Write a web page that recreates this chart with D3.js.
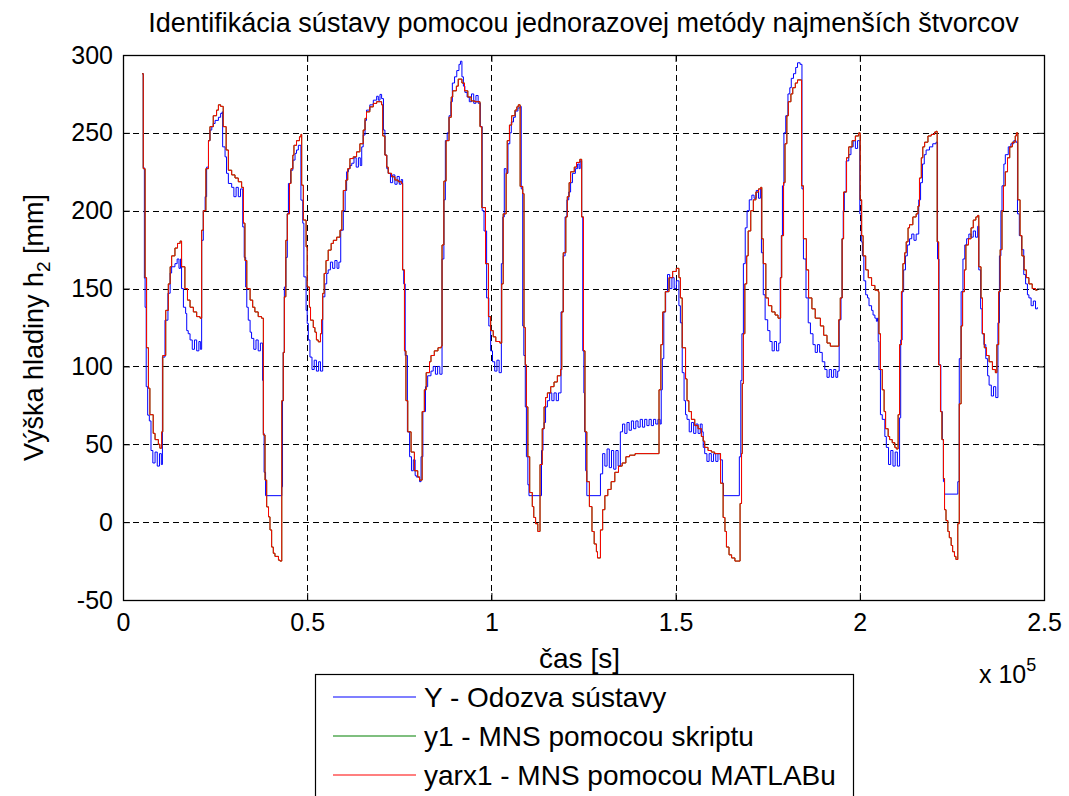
<!DOCTYPE html>
<html>
<head>
<meta charset="utf-8">
<script src="https://cdn.jsdelivr.net/npm/d3@7"></script>
<style>
  html, body { margin: 0; padding: 0; background: #fff; }
  svg text { font-family: "Liberation Sans", Arial, Helvetica, sans-serif; fill: #000; }
</style>
</head>
<body>
<svg id="chart" width="1069" height="796"></svg>
<script>
// Time axis in kiloseconds, level in mm. Each pair is [t (ks), h2 (mm)], held until the next pair.

// Y - measured response of the plant (blue)
const seriesY = [
  [5.2,288],[5.5,227.6],[5.8,156.7],[6.0,138],[6.3,87],[6.7,68.7],[7.15,65],
  [7.6,46],[8.1,38],[8.7,45],[9.3,36],[9.9,44],[10.4,37],
  [10.7,106],[11.4,129.7],[12.2,147],[12.8,160],[13.2,164],
  [14.1,166],[14.7,169],[15.2,163],[15.6,169],
  [15.9,150],[16.4,138],[17.0,134],[17.3,123],[17.7,121],
  [18.2,117],[18.8,111],[19.4,117],[20.0,110],[20.6,116],[21.0,111],
  [21.35,181],[21.8,200],[22.3,209],[22.7,228],[23.2,245],[23.6,251.8],[24.1,254],[24.5,256],
  [25.0,258],[25.9,260],[26.5,262.5],[26.9,263.5],[27.05,241],[27.7,234.6],[28.1,224],[28.6,217.5],
  [29.5,215],[30.1,209],[30.7,215],[31.3,209],[31.9,214],
  [32.5,189.6],[32.9,170],[33.3,151],[33.6,138],[34.0,129.7],[34.5,122],
  [34.9,118],[35.5,111],[36.1,117],[36.7,110],[37.3,115],
  [37.9,91],[38.1,57],[38.3,32],[38.7,17],[43.1,22.7],[43.3,78],[43.5,109],[43.8,151],[44.2,170],
  [44.6,198],[44.9,217.5],[45.5,226],[46.1,232.5],[46.7,236.8],[47.1,239],[47.6,242],
  [48.3,206.8],[48.8,192],[49.1,157.5],[49.7,136],[50.0,127.6],[50.3,117],
  [50.75,106],[51.3,98],[51.9,104],[52.5,97],[53.1,103],[53.6,97],
  [54.2,144.7],[54.8,153],[55.3,159.7],
  [55.7,162],[56.3,167],[56.9,163],[57.5,168],[58.1,163],[58.6,167],
  [59.1,187.5],[59.8,200],[60.3,213],[60.7,225],[61.2,227],[61.6,229],
  [62.1,230.5],[62.7,234],[63.3,228],[63.9,234],[64.4,229],
  [64.8,241],[65.2,248.6],[65.7,258],[66.1,264.6],[67.0,268],[67.95,271],[68.85,273.5],[69.3,271],
  [69.76,274.7],[70.2,272],[70.7,251.8],[71.1,235.7],[71.6,227],
  [72.0,224],[72.6,218],[73.2,223],[73.8,217],[74.4,222],[75.0,217],[75.5,220],
  [75.9,162],[76.2,153],[76.6,107],[77.2,58],
  [77.8,42],[78.3,33],[78.8,40],[79.3,30],
  [79.6,29],[80.5,26],[80.9,42],[81.4,71],[82.1,87],[82.7,94],
  [83.6,97],[84.2,100],[84.8,95],[85.4,100],[86.0,95],
  [86.6,169],[87.1,207],[87.5,245],[88.0,250],[88.5,261],[89.0,270],[89.4,282],[90.0,286],
  [90.6,290],[91.2,294],[91.6,296],[92.0,286],[92.4,280],[92.8,276],
  [93.4,273],[94.0,270],[94.6,275],[95.2,269],[95.8,274],[96.4,269],
  [97.0,254],[97.5,200],[98.0,187],[98.7,144],[99.3,126],[99.8,110],
  [100.3,103],[100.9,97],[101.5,104],[102.1,96],
  [102.7,166],[103.1,196],[103.5,227],[104.0,224],[104.5,243],[105.0,250],[105.4,257],[106.0,260],
  [106.5,264],[107.2,266],[107.8,267],[108.1,214],[108.5,126],[108.8,107],[109.2,74],[109.5,42],
  [109.9,24],[110.2,17],[113.6,46],[114.0,60],[114.3,64],[114.7,74],
  [115.2,78],[115.8,83],[116.4,78],[117.0,83],[117.6,78],[118.2,83],
  [118.9,135],[119.5,171],[120.0,196],[120.5,207],[121.0,212],[121.5,218],[122.0,224],[122.8,227],
  [123.4,230],[123.8,227],[124.1,232],[124.5,196],[124.8,110],[125.1,83],[125.3,58],[125.6,33],
  [125.9,17],[129.6,31],
  [130.2,44],[130.8,36],[131.4,47],[132.0,35],[132.6,46],[133.2,34],[133.8,46],[134.4,36],
  [135.0,58],[135.6,63],[136.2,57],[136.8,64],[137.4,59],[138.0,65],[138.6,60],[139.2,65],
  [139.8,61],[140.4,66],[141.0,61],[141.6,66],[142.2,62],[142.8,66],[143.4,62],[144.0,66],
  [144.6,63],[145.2,66],[145.8,63],
  [146.1,85],[146.4,105],[146.8,135],[147.3,148],
  [147.8,159],[148.4,150],[149.0,157],[149.6,150],[150.2,155],
  [150.9,139],[151.3,128],[151.8,96],[152.3,78],[152.7,69],
  [153.1,66],[153.7,58],[154.3,64],[154.9,57],[155.5,63],[156.1,57],[156.7,63],[157.2,58],
  [157.5,48],
  [157.9,44],[158.5,39],[159.1,44],[159.7,39],[160.3,44],[160.9,39],[161.5,44],[162.1,40],
  [162.7,25],[163.0,17],
  [167.3,42],[167.7,91],[168.0,121],[168.4,166],[168.9,189],[169.4,200],[170.0,207],
  [170.7,210],[171.3,208],[171.9,213],[172.5,208],[173.0,214],
  [173.3,173],[173.8,146],[174.3,130],[175.0,123],
  [175.6,116],[176.2,110],[176.8,116],[177.4,110],[178.0,115],
  [178.4,157],[178.7,184],[179.0,216],[179.4,250],[179.9,261],[180.5,275],[181.0,279],[181.4,285],
  [182.0,288],[182.6,292],[183.1,295],[183.8,294],[184.3,214],[184.7,169],[185.4,144],[186.0,128],
  [186.6,121],
  [187.3,114],[187.9,109],[188.5,114],[189.1,109],
  [189.8,103],
  [190.5,98],[191.1,93],[191.7,98],[192.3,93],[192.9,98],[193.5,93],[194.0,97],
  [194.4,130],[194.9,144],[195.2,182],[195.5,200],[195.8,212],[196.3,232],[197.0,236],
  [197.6,241],[198.2,245],[198.8,240],[199.4,245],
  [200.0,198],[200.4,180],[200.7,171],[201.1,155],[201.6,146],[202.1,144],[202.5,139],[203.2,136],
  [203.6,133],[204.1,131],[204.5,129],[204.8,131],[205.0,116],[205.2,98],[205.6,69],[206.1,66],
  [206.8,55],
  [207.2,48],[207.8,37],[208.4,46],[209.0,36],[209.6,45],[210.2,36],
  [210.8,67],[211.1,117],[211.5,148],[211.9,162],[212.4,171],[212.9,178],
  [213.5,182],[214.1,185],[214.7,181],[215.3,185],
  [216.0,207],[216.5,218],[217.0,230],[217.5,236],[218.0,239],[218.9,241],[219.8,243],[220.7,244],
  [221.1,169],[221.5,101],[222.0,71],[222.4,53],[222.7,26],[223.0,18],[226.6,26],
  [227.0,105],[227.5,148],[228.0,169],[228.5,178],[229.0,182],
  [229.6,185],[230.2,183],[230.8,187],[231.4,183],
  [232.0,190],[232.3,162],[232.8,137],[233.2,121],[233.7,114],[234.2,105],[234.7,94],
  [235.1,88],[235.7,81],[236.3,87],[236.9,80],
  [237.5,128],[237.9,171],[238.3,200],[238.6,216],[239.1,230],[239.5,236],[240.3,241],[241.0,243],
  [241.8,245],[242.4,244],[242.8,198],[243.3,184],[243.9,175],[244.5,159],[245.0,153],[245.5,146],
  [245.9,144],[246.5,139],[247.1,142],[247.7,137],[248.2,138]
];

// yarx1 - least-squares ARX model output computed with MATLAB (red)
const seriesYarx1 = [
  [5.2,288],[5.5,227],[6.0,157],[6.4,112],[6.9,86],[7.3,69],[8.2,57],[8.7,53],[9.6,50],[10.0,47.5],
  [10.5,58],[10.8,107],[11.6,136],[12.3,153],[12.8,164],[13.2,171],[14.1,176],[14.8,179],[15.5,180.5],
  [15.9,164],[16.8,150],[17.5,142.6],[18.2,138],[19.1,135],[20.0,132],[20.9,131],
  [21.35,187.5],[21.8,200],[22.5,227],[23.2,245],[23.6,254],[24.5,261],[25.4,264.6],[25.9,268],
  [26.5,267],[27.2,254],[28.0,239],[28.6,226],[29.5,223],[30.4,221],[31.3,218.6],[32.2,215],
  [32.7,192],[33.1,168],[33.6,150],[34.5,142.6],[35.2,138],[35.8,135],[36.7,132],[37.6,131],
  [38.1,56],[38.55,27],[39.0,9.8],[39.5,3.4],[39.9,-5],[40.35,-16],[40.8,-20],[41.25,-22],
  [42.2,-24.4],[42.6,-25],[43.1,78],[43.5,109],[43.8,144.7],[44.2,181],[44.6,198],[45.2,217.5],
  [45.6,227],[46.1,235.7],[46.4,242],[47.1,245],[47.9,247.5],[48.3,249],[48.5,216.4],[48.95,194],
  [49.7,176.8],[50.0,151],[50.6,138],[50.9,129.7],[51.65,125],[52.1,122],[52.5,117],[53.0,115.8],
  [53.6,121],[53.9,130],[54.2,146.9],[54.6,159.7],[55.1,168],[55.7,174.7],[56.5,179],[57.1,181],
  [58.0,183],[58.9,187.5],[59.4,200],[59.8,213],[60.5,219.7],[61.0,227],[61.6,233.5],[62.5,234.6],
  [63.4,237.8],[64.3,243],[65.2,251.8],[65.7,259.3],[66.1,263.5],[67.0,266.7],[67.95,268.9],
  [68.85,270],[70.2,268],[70.5,248],[71.1,235.7],[71.6,228],[72.0,224],[72.9,221.8],[73.8,219.7],
  [74.7,218.6],[75.6,217.5],[75.9,162],[76.4,110],[76.8,78],[77.3,58],[78.2,45],[79.1,33],
  [80.0,29],[80.5,27],[81.2,71],[81.8,85],[82.3,96],[83.2,103],[83.6,107],[84.5,110],[85.5,112],
  [86.4,113],[86.6,178],[87.1,219],[87.7,245],[88.5,260],[89.1,273],[89.5,277],[90.5,280],
  [91.0,284.5],[92.0,282],[92.7,277],[93.6,273],[94.5,270.5],[95.5,270],[96.9,254],[97.4,202],
  [98.4,166],[99.2,132],[99.8,123],[100.5,119],[101.2,116],[102.3,115],[102.8,153],[103.2,198],
  [104.0,224],[104.3,245],[104.9,255],[105.5,261],[106.4,264.6],[106.9,266.7],[107.3,268],
  [107.8,215.6],[108.5,211],[108.85,125],[109.2,101],[109.5,74],[109.9,42],[110.4,19],[111.1,10],
  [111.5,3],[112.0,-1],[112.6,-6],[113.2,37],[113.8,60],[114.3,74],[114.7,80],[115.2,83],
  [116.1,87],[117.0,90],[117.9,94],[118.8,98],[119.1,135],[119.5,173],[120.2,196],[120.6,209],
  [121.1,218],[121.5,225],[122.5,228],[123.1,231],[124.0,233],[124.5,196],[125.0,110],[125.4,58],
  [125.9,26],[126.6,10],[127.3,-6],[127.9,-14],[128.5,-19],[128.8,-23],[129.6,-5],[130.2,8],
  [130.8,17],[131.6,21],[132.5,26],[133.5,32],[134.5,36],[135.5,38],[136.5,42],[137.5,43],
  [139.0,44],[145.5,85],[146.0,114],[146.5,135],[147.2,148],[148.2,157],[149.2,161],[150.2,163],
  [150.9,157],[151.3,144],[151.8,112],[152.7,92],[153.1,78],[153.6,71],[154.3,66],[155.2,62],
  [156.1,60],[157.0,55],[157.5,52],[157.9,48],[158.8,46],[159.7,45],[160.6,44],[162.2,25],
  [162.9,3],[163.4,-6],[163.8,-16],[164.5,-21],[165.2,-23],[166.1,-25],[167.5,12],[167.9,44],
  [168.1,89],[168.4,121],[168.8,153],[169.3,171],[169.7,187],[170.4,200],[171.1,207],[171.8,212],
  [172.5,214],[173.1,215],[173.4,182],[173.8,166],[174.5,144],[175.2,139],[176.1,135],[177.0,133],
  [177.8,131],[178.5,157],[178.8,184],[179.3,218],[179.7,243],[180.2,261],[180.6,270],[181.3,275],
  [181.8,279],[182.5,282],[183.1,284],[184.2,216],[184.7,182],[185.5,162],[186.1,144],[187.0,137],
  [187.9,131],[189.3,126],[190.2,120],[191.1,115],[192.0,113],[194.3,130],[194.7,144],[195.2,182],
  [195.6,212],[196.4,234],[197.0,241],[197.9,245],[198.8,248],[199.7,250],[200.1,207],[200.5,184],
  [200.9,171],[201.6,162],[202.3,157],[203.2,152],[204.1,149],[205.0,148],[205.2,121],[205.6,98],
  [206.1,85],[206.6,71],[207.0,60],[207.7,55],[208.1,53],[208.8,51],[209.5,48],[209.9,47],
  [210.4,69],[210.8,114],[211.3,148],[211.7,166],[212.2,173],[212.6,180],[213.1,189],[213.5,191],
  [214.4,196],[215.3,198],[215.8,203],[216.2,221],[216.7,234],[217.1,241],[217.6,244],[218.5,248],
  [219.4,249],[220.3,250.5],[220.7,251],[221.0,180],[221.4,101],[221.9,71],[222.3,53],[222.7,28],
  [223.0,8],[223.4,1],[223.9,-6],[224.3,-10],[224.8,-15],[225.2,-19],[225.7,-22],[226.1,-24],
  [226.6,-1],[227.0,76],[227.5,126],[227.9,148],[228.4,162],[228.8,178],[229.5,182],[230.2,189],
  [230.8,194],[231.5,196],[232.0,197],[232.3,164],[232.9,144],[233.3,121],[233.8,112],[234.4,107],
  [235.1,103],[236.0,98],[236.8,96],[237.2,114],[237.7,148],[238.1,175],[238.6,200],[239.0,216],
  [239.5,225],[240.1,234],[240.7,241],[241.4,244],[242.2,248],[242.5,250],[242.9,207],[243.5,184],
  [244.0,171],[244.6,162],[245.2,157],[245.9,153],[246.8,150],[247.7,149],[248.2,149]
];

// y1 - least-squares model computed by the script; it coincides with the MATLAB arx result
const seriesY1 = seriesYarx1;

const xTicks = [0, 50000, 100000, 150000, 200000, 250000];
const xTickLabels = ["0", "0.5", "1", "1.5", "2", "2.5"];
const yTicks = [-50, 0, 50, 100, 150, 200, 250, 300];

const legendLabels = ["Y - Odozva sústavy", "y1 - MNS pomocou skriptu", "yarx1 - MNS pomocou MATLABu"];
const lineColors = ["#0000ff", "#008000", "#ff0000"];

const titleText = "Identifikácia sústavy pomocou jednorazovej metódy najmenších štvorcov";

// ---- layout ----
const plot = { left: 123, right: 1044, top: 55, bottom: 600 };
const TICK_FONT = 25;
const LABEL_FONT = 28;

const svg = d3.select("#chart");

const x = d3.scaleLinear().domain([0, 250000]).range([plot.left, plot.right]);
const y = d3.scaleLinear().domain([-50, 300]).range([plot.bottom, plot.top]);

// dashed grid
const grid = svg.append("g").attr("class", "grid")
  .attr("stroke", "#000").attr("stroke-width", 1).attr("stroke-dasharray", "6,4");
grid.selectAll("line.gx").data(xTicks.slice(1, -1)).join("line")
  .attr("x1", d => Math.round(x(d)) + 0.5).attr("x2", d => Math.round(x(d)) + 0.5)
  .attr("y1", plot.top).attr("y2", plot.bottom);
grid.selectAll("line.gy").data(yTicks.slice(1, -1)).join("line")
  .attr("x1", plot.left).attr("x2", plot.right)
  .attr("y1", d => Math.round(y(d)) + 0.5).attr("y2", d => Math.round(y(d)) + 0.5);

// data lines
const line = d3.line()
  .x(d => x(d[0] * 1000))
  .y(d => y(d[1]))
  .curve(d3.curveStepAfter);

svg.append("clipPath").attr("id", "plotclip").append("rect")
  .attr("x", plot.left).attr("y", plot.top)
  .attr("width", plot.right - plot.left).attr("height", plot.bottom - plot.top);

const dataG = svg.append("g").attr("clip-path", "url(#plotclip)");
[seriesY, seriesY1, seriesYarx1].forEach((s, i) => {
  dataG.append("path")
    .datum(s)
    .attr("fill", "none")
    .attr("stroke", lineColors[i])
    .attr("stroke-width", 1)
    .attr("d", line);
});

// axes with inward ticks
const axB = svg.append("g").attr("transform", `translate(0,${plot.bottom})`)
  .call(d3.axisBottom(x).tickValues(xTicks).tickSize(-7).tickPadding(13)
    .tickFormat((d, i) => xTickLabels[i]));
const axT = svg.append("g").attr("transform", `translate(0,${plot.top})`)
  .call(d3.axisTop(x).tickValues(xTicks).tickSize(-7).tickFormat(""));
const axL = svg.append("g").attr("transform", `translate(${plot.left},0)`)
  .call(d3.axisLeft(y).tickValues(yTicks).tickSize(-7).tickPadding(10).tickFormat(d => String(d)));
const axR = svg.append("g").attr("transform", `translate(${plot.right},0)`)
  .call(d3.axisRight(y).tickValues(yTicks).tickSize(-7).tickFormat(""));

[axB, axT, axL, axR].forEach(g => {
  g.select(".domain").remove();
  g.selectAll(".tick line").attr("stroke", "#000");
  g.selectAll("text").attr("font-size", TICK_FONT).attr("fill", "#000")
    .attr("font-family", '"Liberation Sans", Arial, sans-serif');
});

// axes box
svg.append("rect")
  .attr("x", plot.left + 0.5).attr("y", plot.top + 0.5)
  .attr("width", plot.right - plot.left).attr("height", plot.bottom - plot.top)
  .attr("fill", "none").attr("stroke", "#000").attr("stroke-width", 1.3);

// title
svg.append("text")
  .attr("x", (plot.left + plot.right) / 2).attr("y", 32)
  .attr("text-anchor", "middle").attr("font-size", 27)
  .text(titleText);

// x label
svg.append("text")
  .attr("x", (plot.left + plot.right) / 2 - 4).attr("y", 668)
  .attr("text-anchor", "middle").attr("font-size", LABEL_FONT)
  .text("čas [s]");

// exponent of the time axis
const expo = svg.append("text").attr("x", 979).attr("y", 683).attr("font-size", TICK_FONT);
expo.append("tspan").text("x 10");
expo.append("tspan").attr("dy", -12).attr("font-size", 18).text("5");

// y label with subscript
const yl = svg.append("text")
  .attr("transform", `translate(43,${(plot.top + plot.bottom) / 2}) rotate(-90)`)
  .attr("text-anchor", "middle").attr("font-size", 27);
yl.append("tspan").text("Výška hladiny h");
yl.append("tspan").attr("dy", 7).attr("font-size", 19).text("2");
yl.append("tspan").attr("dy", -7).text(" [mm]");

// legend
const leg = svg.append("g");
leg.append("rect")
  .attr("x", 315.5).attr("y", 674.5).attr("width", 538).attr("height", 140)
  .attr("fill", "#fff").attr("stroke", "#000").attr("stroke-width", 1.2);
legendLabels.forEach((lab, i) => {
  const yy = 697 + i * 39;
  leg.append("line")
    .attr("x1", 333).attr("x2", 416).attr("y1", yy).attr("y2", yy)
    .attr("stroke", lineColors[i]).attr("stroke-width", 1.1);
  leg.append("text")
    .attr("x", 424).attr("y", yy + 10).attr("font-size", LABEL_FONT)
    .text(lab);
});
</script>
</body>
</html>
